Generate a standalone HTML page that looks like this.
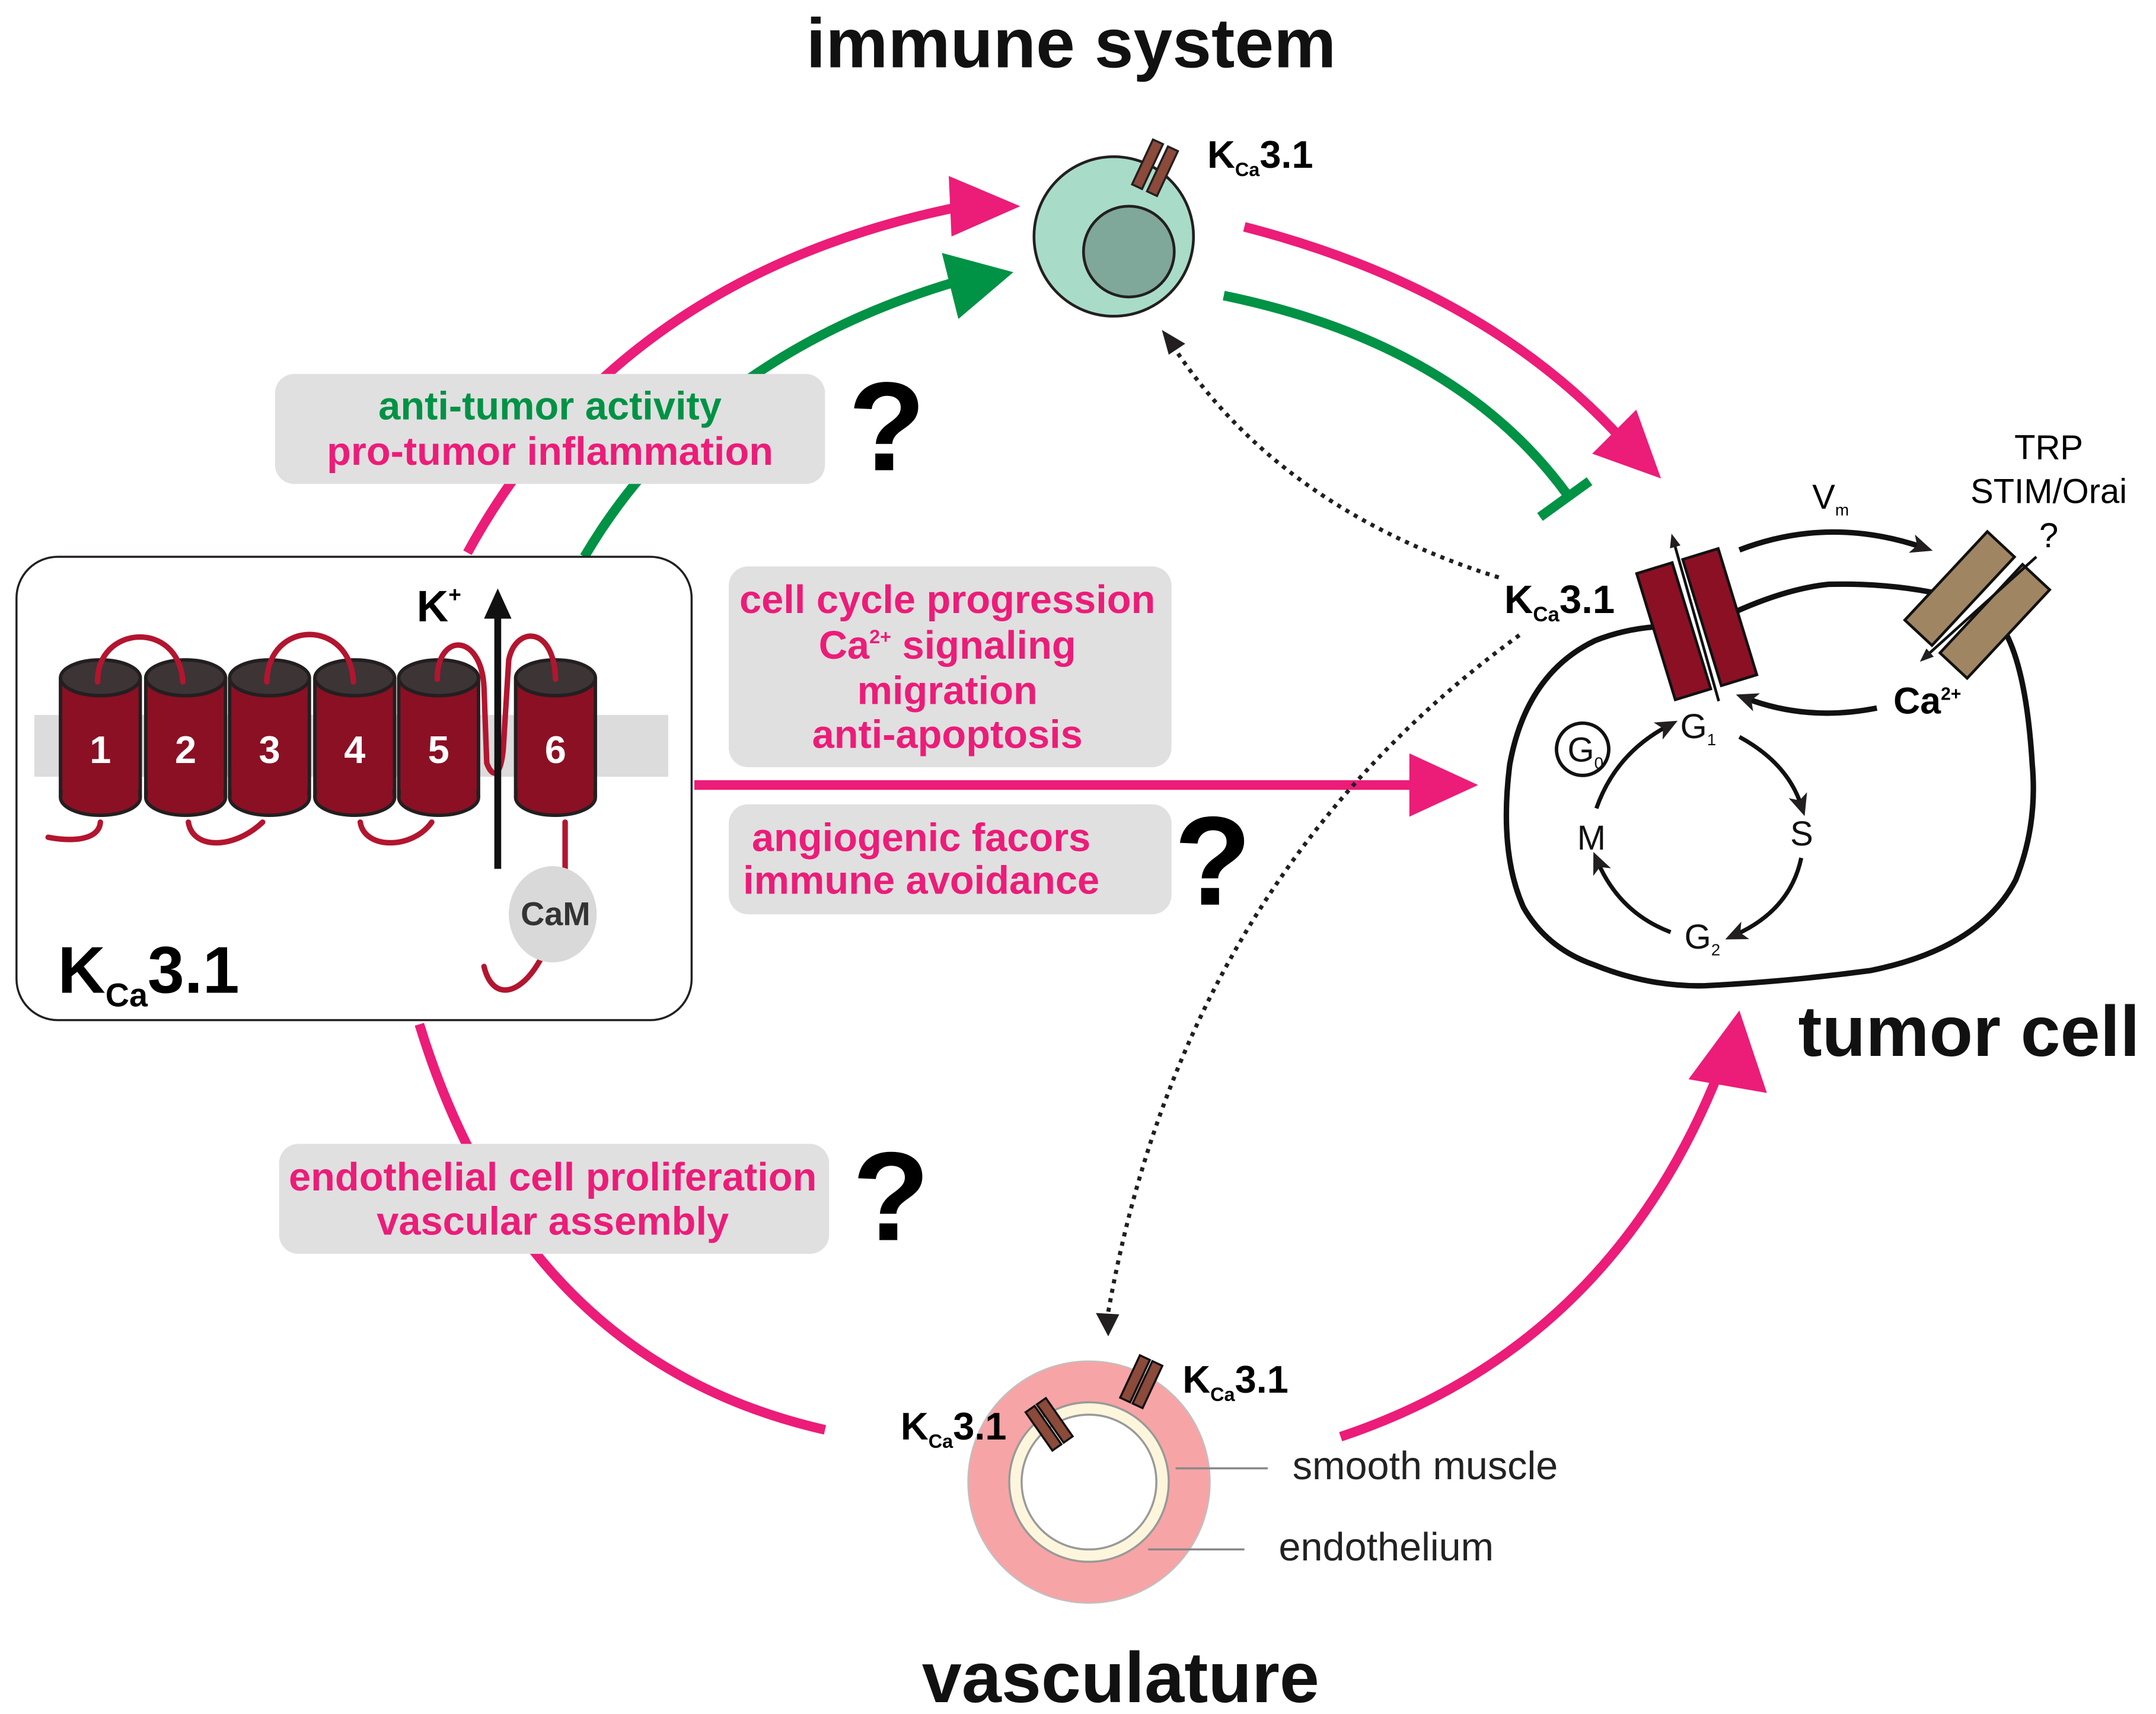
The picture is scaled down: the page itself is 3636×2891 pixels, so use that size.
<!DOCTYPE html>
<html><head><meta charset="utf-8"><style>
html,body{margin:0;padding:0;background:#fff}
svg{display:block}
text{font-family:"Liberation Sans",Arial,sans-serif}
</style></head><body>
<svg width="3636" height="2891" viewBox="0 0 1568 1246.7" preserveAspectRatio="none" xmlns="http://www.w3.org/2000/svg">
<defs>
<marker id="ak" markerWidth="16" markerHeight="16" refX="8" refY="8" orient="auto" markerUnits="userSpaceOnUse" viewBox="0 0 16 16"><path d="M0,1 L16,8 L0,15 L4,8 z" fill="#231f20"/></marker>
<marker id="as" markerWidth="10" markerHeight="10" refX="5" refY="5" orient="auto" markerUnits="userSpaceOnUse" viewBox="0 0 10 10"><path d="M0,1 L10,5 L0,9 z" fill="#231f20"/></marker>
</defs>
<g font-weight="bold">
<text x="779" y="49" font-size="51" text-anchor="middle" fill="#111">immune system</text>
<text x="1432" y="768" font-size="52" text-anchor="middle" fill="#111">tumor cell</text>
<text x="815" y="1238" font-size="52" text-anchor="middle" fill="#111">vasculature</text>
</g>
<!-- pink/green arrows -->
<path d="M340,402 Q450,200 700,150" stroke="#ec1c79" stroke-width="7" fill="none"/>
<path d="M690,128 L742,150 L692,172 z" fill="#ec1c79"/>
<path d="M425,405 Q510,260 695,205" stroke="#009245" stroke-width="7" fill="none"/>
<path d="M685,184 L737,198 L697,232 z" fill="#009245"/>
<path d="M905,165 Q1080,210 1180,320" stroke="#ec1c79" stroke-width="7" fill="none"/>
<path d="M1158,330 L1208,348 L1190,298 z" fill="#ec1c79"/>
<path d="M890,215 Q1060,250 1140,360" stroke="#009245" stroke-width="7" fill="none"/>
<path d="M1120,376 L1156,350" stroke="#009245" stroke-width="7"/>
<path d="M505,571 L1030,571" stroke="#ec1c79" stroke-width="7"/>
<path d="M1025,548 L1075,571 L1025,594 z" fill="#ec1c79"/>
<path d="M305,745 Q380,990 600,1040" stroke="#ec1c79" stroke-width="7" fill="none"/>
<path d="M975,1045 Q1170,980 1250,780" stroke="#ec1c79" stroke-width="7" fill="none"/>
<path d="M1228,785 L1265,735 L1285,795 z" fill="#ec1c79"/>
<!-- dotted -->
<path d="M1090,420 Q930,370 852,250" stroke="#231f20" stroke-width="3" stroke-dasharray="3,4" fill="none"/>
<path d="M845,240 L862,250 L850,258 z" fill="#231f20"/>
<path d="M1105,462 Q860,640 805,960" stroke="#231f20" stroke-width="3" stroke-dasharray="3,4" fill="none"/>
<path d="M797,955 L806,972 L814,956 z" fill="#231f20"/>
<!-- immune cell -->
<circle cx="810" cy="172" r="58" fill="#a8dcc8" stroke="#231f20" stroke-width="2"/>
<circle cx="821" cy="183" r="33" fill="#7fa79a" stroke="#231f20" stroke-width="2"/>
<g transform="translate(840,122) rotate(25)"><rect x="-10" y="-18" width="8" height="36" fill="#8b4a3a" stroke="#231f20" stroke-width="1.5"/><rect x="2" y="-18" width="8" height="36" fill="#8b4a3a" stroke="#231f20" stroke-width="1.5"/></g>
<text x="878" y="122" font-size="28" font-weight="bold">K<tspan font-size="14" dy="6">Ca</tspan><tspan dy="-6">3.1</tspan></text>
<!-- gray boxes -->
<g font-size="28.8" font-weight="bold" text-anchor="middle">
<rect x="200" y="272" width="400" height="80" rx="14" fill="#e0e0e0"/>
<text x="400" y="305" fill="#009245">anti-tumor activity</text>
<text x="400" y="338" fill="#ec1c79">pro-tumor inflammation</text>
<rect x="530" y="412" width="322" height="146" rx="14" fill="#e0e0e0"/>
<text x="689" y="446" fill="#ec1c79">cell cycle progression</text>
<text x="689" y="479" fill="#ec1c79">Ca<tspan font-size="14" dy="-11">2+</tspan><tspan dy="11"> signaling</tspan></text>
<text x="689" y="512" fill="#ec1c79">migration</text>
<text x="689" y="544" fill="#ec1c79">anti-apoptosis</text>
<rect x="530" y="585" width="322" height="80" rx="14" fill="#e0e0e0"/>
<text x="670" y="619" fill="#ec1c79">angiogenic facors</text>
<text x="670" y="650" fill="#ec1c79">immune avoidance</text>
<rect x="203" y="832" width="400" height="80" rx="14" fill="#e0e0e0"/>
<text x="402" y="866" fill="#ec1c79">endothelial cell proliferation</text>
<text x="402" y="898" fill="#ec1c79">vascular assembly</text>
</g>
<g font-size="92" font-weight="bold" text-anchor="middle">
<text x="645" y="342">?</text>
<text x="882" y="658">?</text>
<text x="648" y="902">?</text>
</g>
<!-- left box -->
<rect x="12" y="405" width="491" height="337" rx="30" fill="#fff" stroke="#231f20" stroke-width="1.5"/>
<rect x="25" y="520" width="461" height="45" fill="#dcdcdc"/>
<!-- cylinders -->
<g stroke="#231f20" stroke-width="2.5" font-size="28" font-weight="bold" fill="#fff" text-anchor="middle">
<g transform="translate(73,493)"><rect x="-29" y="0" width="58" height="87" fill="#8b1024" stroke="none"/><path d="M-29,0 L-29,87 M29,0 L29,87" /><ellipse cx="0" cy="87" rx="29" ry="13" fill="#8b1024"/><rect x="-27.5" y="60" width="55" height="27" fill="#8b1024" stroke="none"/><ellipse cx="0" cy="0" rx="29" ry="13" fill="#3d3435"/><text y="62" stroke="none">1</text></g>
<g transform="translate(135,493)"><rect x="-29" y="0" width="58" height="87" fill="#8b1024" stroke="none"/><path d="M-29,0 L-29,87 M29,0 L29,87" /><ellipse cx="0" cy="87" rx="29" ry="13" fill="#8b1024"/><rect x="-27.5" y="60" width="55" height="27" fill="#8b1024" stroke="none"/><ellipse cx="0" cy="0" rx="29" ry="13" fill="#3d3435"/><text y="62" stroke="none">2</text></g>
<g transform="translate(196,493)"><rect x="-29" y="0" width="58" height="87" fill="#8b1024" stroke="none"/><path d="M-29,0 L-29,87 M29,0 L29,87" /><ellipse cx="0" cy="87" rx="29" ry="13" fill="#8b1024"/><rect x="-27.5" y="60" width="55" height="27" fill="#8b1024" stroke="none"/><ellipse cx="0" cy="0" rx="29" ry="13" fill="#3d3435"/><text y="62" stroke="none">3</text></g>
<g transform="translate(258,493)"><rect x="-29" y="0" width="58" height="87" fill="#8b1024" stroke="none"/><path d="M-29,0 L-29,87 M29,0 L29,87" /><ellipse cx="0" cy="87" rx="29" ry="13" fill="#8b1024"/><rect x="-27.5" y="60" width="55" height="27" fill="#8b1024" stroke="none"/><ellipse cx="0" cy="0" rx="29" ry="13" fill="#3d3435"/><text y="62" stroke="none">4</text></g>
<g transform="translate(319,493)"><rect x="-29" y="0" width="58" height="87" fill="#8b1024" stroke="none"/><path d="M-29,0 L-29,87 M29,0 L29,87" /><ellipse cx="0" cy="87" rx="29" ry="13" fill="#8b1024"/><rect x="-27.5" y="60" width="55" height="27" fill="#8b1024" stroke="none"/><ellipse cx="0" cy="0" rx="29" ry="13" fill="#3d3435"/><text y="62" stroke="none">5</text></g>
<g transform="translate(404,493)"><rect x="-29" y="0" width="58" height="87" fill="#8b1024" stroke="none"/><path d="M-29,0 L-29,87 M29,0 L29,87" /><ellipse cx="0" cy="87" rx="29" ry="13" fill="#8b1024"/><rect x="-27.5" y="60" width="55" height="27" fill="#8b1024" stroke="none"/><ellipse cx="0" cy="0" rx="29" ry="13" fill="#3d3435"/><text y="62" stroke="none">6</text></g>
</g>
<!-- loops -->
<g stroke="#b3152f" stroke-width="4" fill="none" stroke-linecap="round">
<path d="M71,496 C70,455 130,450 133,496"/>
<path d="M194,496 C195,450 255,450 257,496"/>
<path d="M318,494 C318,460 350,460 352,500 L354,555 C358,566 364,566 366,545 L370,480 C375,455 403,455 404,494"/>
<path d="M73,598 C72,612 50,612 35,609"/>
<path d="M137,598 C140,618 170,618 191,598"/>
<path d="M262,598 C265,618 300,618 314,598"/>
<path d="M411,598 L411,632"/>
<path d="M352,703 C358,728 378,725 393,698"/>
</g>
<path d="M362,632 L362,445" stroke="#111" stroke-width="5"/>
<path d="M352,450 L362,428 L372,450 z" fill="#111"/>
<text x="303" y="452" font-size="32" font-weight="bold">K<tspan font-size="16" dy="-14">+</tspan></text>
<ellipse cx="402" cy="665" rx="32" ry="35" fill="#d9d9d9"/>
<text x="404" y="673" font-size="24" font-weight="bold" text-anchor="middle" fill="#333">CaM</text>
<text x="42" y="722" font-size="48" font-weight="bold">K<tspan font-size="24" dy="10">Ca</tspan><tspan dy="-10">3.1</tspan></text>
<!-- tumor cell -->
<path d="M1203,456 Q1180,458 1160,466 Q1110,490 1098,556 Q1090,620 1108,660 Q1125,690 1160,702 Q1200,718 1240,717 Q1300,714 1360,706 Q1440,690 1466,640 Q1482,600 1478,556 Q1474,490 1459,461" fill="none" stroke="#111" stroke-width="4"/>
<path d="M1262,445 Q1300,428 1330,425 Q1370,424 1406,431" fill="none" stroke="#111" stroke-width="4"/>
<g transform="translate(1234,454) rotate(-17)"><rect x="-31" y="-48" width="27" height="96" fill="#8b1024" stroke="#111" stroke-width="2"/><rect x="4" y="-48" width="27" height="96" fill="#8b1024" stroke="#111" stroke-width="2"/><path d="M-2,-48 L-2,48 M2,-48 L2,48" stroke="#fff" stroke-width="1.5"/></g>
<path d="M1250,510 L1217,393" stroke="#111" stroke-width="2" marker-end="url(#as)"/>
<g transform="translate(1438,440) rotate(43)"><rect x="-31" y="-44" width="27" height="88" fill="#a08563" stroke="#111" stroke-width="2"/><rect x="4" y="-44" width="27" height="88" fill="#a08563" stroke="#111" stroke-width="2"/></g>
<path d="M1481,405 L1400,478" stroke="#111" stroke-width="2" marker-end="url(#as)"/>
<path d="M1265,400 Q1330,375 1398,398" stroke="#111" stroke-width="4" fill="none" marker-end="url(#ak)"/>
<text x="1318" y="370" font-size="25">V<tspan font-size="12" dy="5">m</tspan></text>
<text x="1490" y="334" font-size="25" text-anchor="middle">TRP</text>
<text x="1490" y="366" font-size="25" text-anchor="middle">STIM/Orai</text>
<text x="1490" y="398" font-size="25" text-anchor="middle">?</text>
<path d="M1365,515 Q1315,525 1270,508" stroke="#111" stroke-width="4" fill="none" marker-end="url(#ak)"/>
<text x="1377" y="519" font-size="27" font-weight="bold">Ca<tspan font-size="13" dy="-10">2+</tspan></text>
<text x="1094" y="446" font-size="29" font-weight="bold">K<tspan font-size="15" dy="6">Ca</tspan><tspan dy="-6">3.1</tspan></text>
<!-- cycle -->
<g stroke="#111" stroke-width="3" fill="none">
<path d="M1265,536 Q1300,555 1310,586" marker-end="url(#ak)"/>
<path d="M1310,624 Q1302,662 1262,680" marker-end="url(#ak)"/>
<path d="M1215,678 Q1178,664 1162,627" marker-end="url(#ak)"/>
<path d="M1161,588 Q1175,548 1213,528" marker-end="url(#ak)"/>
</g>
<circle cx="1151" cy="545" r="19" fill="#fff" stroke="#111" stroke-width="2.5"/>
<g font-size="25" fill="#111">
<text x="1140" y="554">G<tspan font-size="12" dy="5">0</tspan></text>
<text x="1222" y="537">G<tspan font-size="12" dy="5">1</tspan></text>
<text x="1302" y="615">S</text>
<text x="1225" y="690">G<tspan font-size="12" dy="5">2</tspan></text>
<text x="1147" y="618">M</text>
</g>
<!-- vessel -->
<circle cx="792" cy="1078" r="88" fill="#f7a4a6" stroke="#c0c0c0" stroke-width="1"/>
<circle cx="792" cy="1078" r="58" fill="#fdf6dc" stroke="#999" stroke-width="1.5"/>
<circle cx="792" cy="1078" r="49" fill="#fff" stroke="#999" stroke-width="1.5"/>
<g transform="translate(763,1036) rotate(-35)"><rect x="-9" y="-17" width="8" height="34" fill="#8b4a3a" stroke="#111" stroke-width="1.5"/><rect x="1" y="-17" width="8" height="34" fill="#8b4a3a" stroke="#111" stroke-width="1.5"/></g>
<g transform="translate(830,1005) rotate(25)"><rect x="-9" y="-17" width="8" height="34" fill="#8b4a3a" stroke="#111" stroke-width="1.5"/><rect x="1" y="-17" width="8" height="34" fill="#8b4a3a" stroke="#111" stroke-width="1.5"/></g>
<text x="655" y="1047" font-size="28" font-weight="bold">K<tspan font-size="14" dy="6">Ca</tspan><tspan dy="-6">3.1</tspan></text>
<text x="860" y="1013" font-size="28" font-weight="bold">K<tspan font-size="14" dy="6">Ca</tspan><tspan dy="-6">3.1</tspan></text>
<path d="M855,1068 L922,1068 M835,1127 L905,1127" stroke="#888" stroke-width="1.5"/>
<text x="940" y="1076" font-size="28.7" fill="#222">smooth muscle</text>
<text x="930" y="1135" font-size="28.7" fill="#222">endothelium</text>
</svg>
</body></html>
